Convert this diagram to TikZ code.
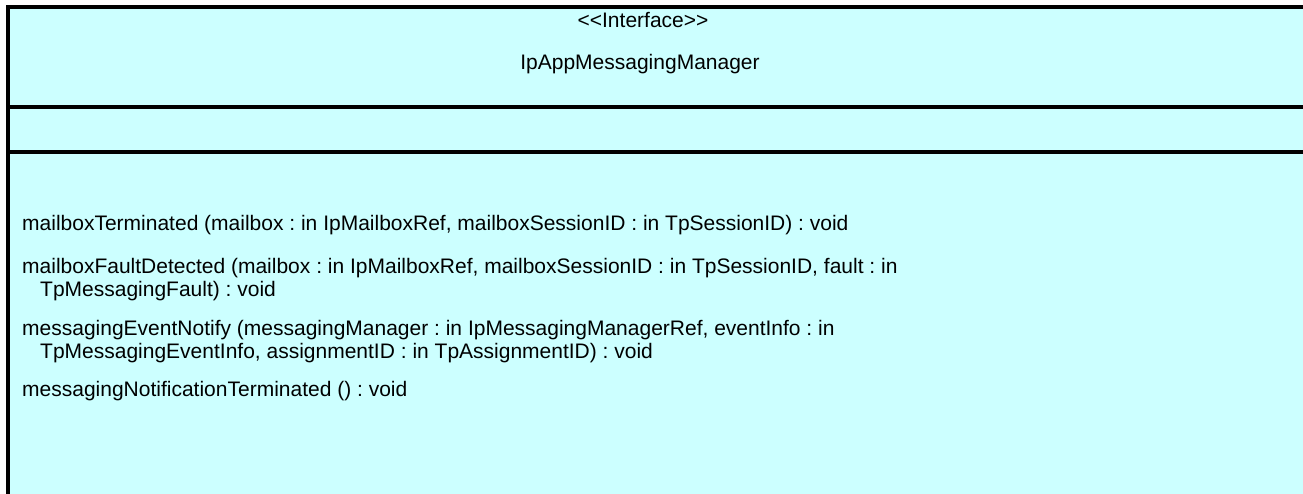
\documentclass[tikz,border=0pt]{standalone}
\usepackage{fontspec}
\setmainfont{Liberation Sans}
\usepackage{tikz}
\definecolor{classfill}{RGB}{204,255,255}
\frenchspacing

\begin{document}
\begin{tikzpicture}[x=1pt,y=-1pt,
  op/.style={anchor=mid west, inner sep=0pt, font=\fontsize{21}{24}\selectfont},
  title/.style={anchor=mid, inner sep=0pt, font=\fontsize{21}{24}\selectfont},
  rule/.style={line width=4pt}]

\useasboundingbox (0,0) rectangle (1303,493);

% draw class box
\fill[classfill] (8,7) rectangle (1312,500);
\draw[rule] (8,500) coordinate (bl) -- (8,7) coordinate (tl) -- (1312,7) coordinate (tr);

% draw compartment lines
\draw[rule] (8,107) coordinate (s1) -- (1312,107);
\draw[rule] (8,152) coordinate (s2) -- (1312,152);

% stereotype and class name
\node[title] (stereo) at (643,25) {\textless\kern0pt\textless Interface\textgreater\kern0pt\textgreater};
\node[title] (name) at (640,67) {IpAppMessagingManager};

% operations
\node[op] (op1) at (22,228) {mailboxTerminated (mailbox : in IpMailboxRef, mailboxSessionID : in TpSessionID) : void};
\node[op] (op2) at (22,271) {mailboxFaultDetected (mailbox : in IpMailboxRef, mailboxSessionID : in TpSessionID, fault : in};
\node[op] (op2b) at (40,294) {TpMessagingFault) : void};
\node[op] (op3) at (22,333) {messagingEventNotify (messagingManager : in IpMessagingManagerRef, eventInfo : in};
\node[op] (op3b) at (40,356) {TpMessagingEventInfo, assignmentID : in TpAssignmentID) : void};
\node[op] (op4) at (22,394) {messagingNotificationTerminated () : void};

\end{tikzpicture}
\end{document}
